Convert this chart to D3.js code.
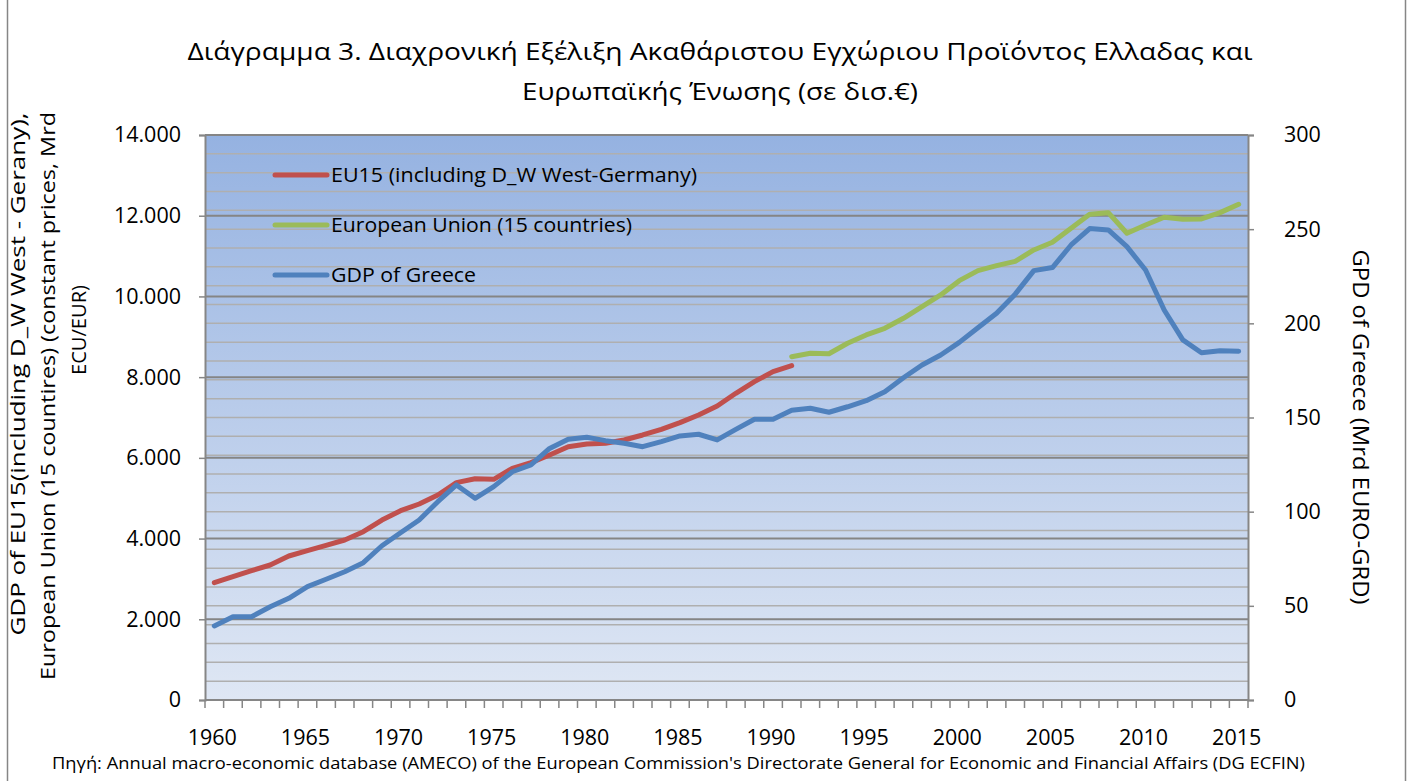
<!DOCTYPE html>
<html>
<head>
<meta charset="utf-8">
<script src="https://cdn.jsdelivr.net/npm/d3@7"></script>
<style>
  html, body { margin: 0; padding: 0; background: #fff; }
  svg { display: block; }
  text { font-family: "Open Sans", "Noto Sans", sans-serif; fill: #000; }
</style>
</head>
<body>
<svg id="chart" width="1409" height="781"></svg>
<script>
// ---------- data ----------
const years = d3.range(1960, 2016);
const eu15WestGermanyYears = d3.range(1960, 1992);
const eu15WestGermany = [2907, 3055, 3205, 3345, 3568, 3700, 3833, 3965, 4171, 4460,
  4691, 4857, 5080, 5385, 5484, 5469, 5741, 5881, 6071, 6277,
  6344, 6360, 6443, 6567, 6708, 6872, 7062, 7285, 7600, 7888,
  8136, 8284];
const eu15Years = d3.range(1991, 2016);
const eu15 = [8507, 8590, 8581, 8839, 9045, 9210, 9458, 9746, 10036, 10391,
  10639, 10762, 10870, 11151, 11342, 11689, 12036, 12076, 11565, 11771,
  11961, 11912, 11919, 12076, 12284];
const greeceYears = d3.range(1960, 2016);
const greece = [39.3, 44.2, 44.2, 49.5, 54.0, 60.2, 64.1, 68.1, 72.9, 81.9,
  88.8, 95.6, 105.3, 114.2, 107.1, 113.3, 121.2, 124.8, 133.6, 138.4,
  139.5, 137.7, 136.3, 134.5, 137.2, 140.2, 141.1, 138.1, 143.7, 149.1,
  149.1, 153.8, 154.9, 152.8, 155.7, 158.9, 163.7, 171.1, 177.9, 183.2,
  189.9, 197.7, 205.3, 215.5, 228.0, 229.6, 241.6, 250.3, 249.6, 240.7,
  228.3, 207.1, 191.2, 184.4, 185.5, 185.2];
const leftTicks = [0, 2000, 4000, 6000, 8000, 10000, 12000, 14000];
const rightTicks = [0, 50, 100, 150, 200, 250, 300];
const xLabelYears = [1960, 1965, 1970, 1975, 1980, 1985, 1990, 1995, 2000, 2005, 2010, 2015];
const seriesNames = ["EU15 (including D_W West-Germany)", "European Union (15 countries)", "GDP of Greece"];
const seriesColors = ["#c0504d", "#9bbb59", "#4f81bd"];
const titleLines = ["Διάγραμμα  3. Διαχρονική Εξέλιξη Ακαθάριστου Εγχώριου Προϊόντος Ελλαδας και", "Ευρωπαϊκής Ένωσης (σε δισ.€)"];
const leftTitle = ["GDP of EU15(including D_W West - Gerany),", "European Union (15 countires) (constant prices, Mrd", "ECU/EUR)"];
const rightTitle = "GPD of Greece (Mrd EURO-GRD)";
const sourceText = "Πηγή: Annual macro-economic database (AMECO) of the European Commission's Directorate General for Economic and Financial Affairs (DG ECFIN)";

// ---------- layout ----------
const svg = d3.select("#chart");
const L = 205, R = 1248, T = 135, B = 700;

const x = d3.scaleBand().domain(years).range([L, R]).paddingInner(0).paddingOuter(0);
const xc = d => x(d) + x.bandwidth() / 2;
const yL = d3.scaleLinear().domain([0, 14000]).range([B, T]);
const yR = d3.scaleLinear().domain([0, 300]).range([B, T]);

// outer border
svg.append("rect").attr("x", 7.5).attr("y", -2).attr("width", 1398).attr("height", 790)
  .attr("fill", "#fff").attr("stroke", "#868686").attr("stroke-width", 1.5);

// gradient background
const defs = svg.append("defs");
const grad = defs.append("linearGradient").attr("id", "bg").attr("x1", 0).attr("y1", 0).attr("x2", 0).attr("y2", 1);
grad.append("stop").attr("offset", "0%").attr("stop-color", "#95b2e1");
grad.append("stop").attr("offset", "100%").attr("stop-color", "#dfe7f4");
svg.append("rect").attr("x", L).attr("y", T).attr("width", R - L).attr("height", B - T).attr("fill", "url(#bg)");

// minor gridlines (right axis every 10)
const minor = d3.range(10, 300, 10);
svg.append("g").selectAll("line").data(minor).join("line")
  .attr("x1", L).attr("x2", R).attr("y1", d => yR(d)).attr("y2", d => yR(d))
  .attr("stroke", "#afafaf").attr("stroke-width", 1.5);
// major gridlines (left axis)
svg.append("g").selectAll("line").data(leftTicks.filter(d => d > 0)).join("line")
  .attr("x1", L).attr("x2", R).attr("y1", d => yL(d)).attr("y2", d => yL(d))
  .attr("stroke", "#858585").attr("stroke-width", 2);

// axes
const axisColor = "#868686";
const gL = svg.append("g").attr("transform", `translate(${L},0)`)
  .call(d3.axisLeft(yL).tickValues(leftTicks).tickSize(6).tickPadding(18)
    .tickFormat(d => d === 0 ? "0" : d3.format(",")(d).replace(/,/g, ".")));
const gR = svg.append("g").attr("transform", `translate(${R},0)`)
  .call(d3.axisRight(yR).tickValues(rightTicks).tickSize(6).tickPadding(30));
const gX = svg.append("g").attr("transform", `translate(0,${B})`)
  .call(d3.axisBottom(x).tickValues(xLabelYears).tickSize(0).tickPadding(30));
[gL, gR, gX].forEach(g => {
  g.select(".domain").attr("stroke", axisColor).attr("stroke-width", 2);
  g.selectAll(".tick line").attr("stroke", axisColor).attr("stroke-width", 1.5);
  g.selectAll("text").attr("font-size", 21.5).attr("fill", "#000")
    .style("font-family", "'Open Sans', sans-serif");
});
gX.select(".domain").attr("d", `M${L},0H${R}`);
gR.selectAll("text").attr("text-anchor", "start");
gX.selectAll("text").attr("dx", "-2");
// category boundary ticks on x axis
svg.append("g").selectAll("line").data(d3.range(0, years.length + 1)).join("line")
  .attr("x1", i => L + i * x.step()).attr("x2", i => L + i * x.step())
  .attr("y1", B).attr("y2", B + 8)
  .attr("stroke", axisColor).attr("stroke-width", 1.5);

// lines
const lineGen = (ys) => d3.line().x(d => xc(d[0])).y(d => ys(d[1]));
const s1 = d3.zip(eu15WestGermanyYears, eu15WestGermany);
const s2 = d3.zip(eu15Years, eu15);
const s3 = d3.zip(greeceYears, greece);
[[s1, yL, 0], [s2, yL, 1], [s3, yR, 2]].forEach(([data, sc, i]) => {
  svg.append("path").datum(data).attr("d", lineGen(sc))
    .attr("fill", "none").attr("stroke", seriesColors[i]).attr("stroke-width", 5)
    .attr("stroke-linejoin", "round").attr("stroke-linecap", "round");
});

// legend
const legY = [175, 225, 275];
const legLen = [366, 301, 145];
seriesNames.forEach((n, i) => {
  svg.append("line").attr("x1", 275).attr("x2", 327).attr("y1", legY[i]).attr("y2", legY[i])
    .attr("stroke", seriesColors[i]).attr("stroke-width", 5).attr("stroke-linecap", "round");
  svg.append("text").attr("x", 331).attr("y", legY[i] + 7).attr("font-size", 20.5)
    .attr("textLength", legLen[i]).attr("lengthAdjust", "spacingAndGlyphs").text(n);
});

// title
svg.append("text").attr("x", 720).attr("y", 60).attr("text-anchor", "middle")
  .attr("font-size", 24).attr("textLength", 1065).attr("lengthAdjust", "spacingAndGlyphs").text(titleLines[0]);
svg.append("text").attr("x", 720).attr("y", 100).attr("text-anchor", "middle")
  .attr("font-size", 24).attr("textLength", 396).attr("lengthAdjust", "spacingAndGlyphs").text(titleLines[1]);

// left axis title
const ltx = [25, 55, 86];
const lty = [374, 396, 330];
const ltLen = [523, 568, 90];
leftTitle.forEach((t, i) => {
  svg.append("text").attr("transform", `translate(${ltx[i]},${lty[i]}) rotate(-90)`)
    .attr("text-anchor", "middle").attr("font-size", 20)
    .attr("textLength", ltLen[i]).attr("lengthAdjust", "spacingAndGlyphs").text(t);
});
// right axis title
svg.append("text").attr("transform", "translate(1353,427) rotate(90)")
  .attr("text-anchor", "middle").attr("font-size", 21)
  .attr("textLength", 355).attr("lengthAdjust", "spacingAndGlyphs").text(rightTitle);

// source
svg.append("text").attr("x", 52).attr("y", 769).attr("font-size", 16.5)
  .attr("textLength", 1253).attr("lengthAdjust", "spacingAndGlyphs").text(sourceText);
</script>
</body>
</html>
